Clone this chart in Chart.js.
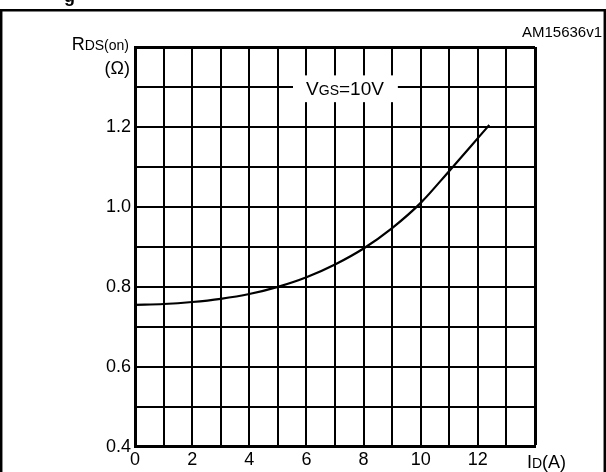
<!DOCTYPE html>
<html><head><meta charset="utf-8">
<script src="https://cdn.jsdelivr.net/npm/chart.js@4.4.1/dist/chart.umd.min.js"></script>
<style>html,body{margin:0;padding:0;background:#fff}#wrap{width:606px;height:472px;position:relative}</style>
</head><body><div id="wrap"><canvas id="c" width="606" height="472"></canvas></div>
<script>
// ---- data ----
const drainCurrent = [0, 1, 2, 3, 4, 5, 6, 7, 8, 9, 10, 11, 12, 12.4];
const rdsOn       = [0.755, 0.757, 0.762, 0.770, 0.782, 0.800, 0.824, 0.856, 0.896, 0.947, 1.010, 1.090, 1.172, 1.205];
const xTickLabels = [0, 2, 4, 6, 8, 10, 12];
const yTickLabels = [0.4, 0.6, 0.8, 1.0, 1.2];
const xRange = [0, 14];
const yRange = [0.4, 1.4];
const conditionLabel = ['V', 'GS', '=10V'];
const figureCode = 'AM15636v1';

const FONT = "'Liberation Sans', Arial, sans-serif";
const points = drainCurrent.map((x, i) => ({x, y: rdsOn[i]}));

function mixedText(ctx, parts, x, y, align) {
  let total = 0;
  parts.forEach(p => { ctx.font = p[1] + 'px ' + FONT; total += ctx.measureText(p[0]).width; });
  let cx = align === 'right' ? x - total : align === 'center' ? x - total / 2 : x;
  ctx.textAlign = 'left';
  parts.forEach(p => { ctx.font = p[1] + 'px ' + FONT; ctx.fillText(p[0], cx, y); cx += ctx.measureText(p[0]).width; });
}

const decor = {
  id: 'decor',
  afterDraw(chart) {
    const ctx = chart.ctx, xs = chart.scales.x, ys = chart.scales.y;
    ctx.save();
    ctx.strokeStyle = '#000'; ctx.lineWidth = 2.5;
    ctx.beginPath();
    ctx.moveTo(1.2, 472); ctx.lineTo(1.2, 10.2); ctx.lineTo(604.8, 10.2); ctx.lineTo(604.8, 472);
    ctx.stroke();
    ctx.fillStyle = '#000';
    ctx.font = 'bold 18px ' + FONT; ctx.textBaseline = 'alphabetic'; ctx.textAlign = 'left';
    ctx.fillText('g', 64, 2);
    ctx.font = '15px ' + FONT; ctx.textAlign = 'right';
    ctx.fillText(figureCode, 602, 37);
    const bx0 = xs.getPixelForValue(5.53), bx1 = xs.getPixelForValue(9.2);
    const by0 = ys.getPixelForValue(1.329), by1 = ys.getPixelForValue(1.262);
    ctx.fillStyle = '#fff';
    ctx.fillRect(bx0, by0, bx1 - bx0, by1 - by0);
    ctx.fillStyle = '#000';
    ctx.textBaseline = 'alphabetic';
    const cy = ys.getPixelForValue(1.3) + 8;
    mixedText(ctx, [[conditionLabel[0], 19], [conditionLabel[1], 14], [conditionLabel[2], 19]], xs.getPixelForValue(7.35), cy, 'center');
    const yl = xs.left - 6;
    mixedText(ctx, [['R', 18], ['DS(on)', 14]], yl, ys.getPixelForValue(1.4) + 3, 'right');
    mixedText(ctx, [['(\u03A9)', 18]], yl + 1, ys.getPixelForValue(1.4) + 27, 'right');
    mixedText(ctx, [['I', 18], ['D', 14], ['(A)', 18]], xs.getPixelForValue(14) - 8, ys.bottom + 21, 'left');
    ctx.restore();
  }
};

new Chart(document.getElementById('c'), {
  type: 'scatter',
  data: {
    datasets: [{
      data: points,
      showLine: true,
      borderColor: '#000',
      borderWidth: 2.2,
      pointRadius: 0,
      cubicInterpolationMode: 'monotone',
      fill: false
    }]
  },
  options: {
    responsive: false,
    animation: false,
    devicePixelRatio: 1,
    layout: {padding: {left: 0, top: 47, right: 71, bottom: 0}},
    plugins: {legend: {display: false}, tooltip: {enabled: false}},
    scales: {
      x: {
        type: 'linear', min: xRange[0], max: xRange[1],
        afterFit(s) { s.height = 25.3; },
        border: {color: '#000', width: 3},
        grid: {color: '#000', lineWidth: c => (c.tick && c.tick.value === xRange[1]) ? 3 : 2, drawTicks: false},
        ticks: {
          stepSize: 1, autoSkip: false, maxRotation: 0, padding: 3, color: '#000',
          font: {family: FONT, size: 18},
          callback: v => xTickLabels.includes(v) ? String(v) : ''
        }
      },
      y: {
        type: 'linear', min: yRange[0], max: yRange[1],
        afterFit(s) { s.width = 135; },
        border: {color: '#000', width: 3},
        grid: {color: '#000', lineWidth: c => (c.tick && Math.abs(c.tick.value - yRange[1]) < 1e-6) ? 3 : 2, drawTicks: false},
        ticks: {
          stepSize: 0.1, autoSkip: false, padding: 4, color: '#000',
          font: {family: FONT, size: 18},
          callback: v => yTickLabels.some(t => Math.abs(t - v) < 1e-6) ? Number(v).toFixed(1) : ''
        }
      }
    }
  },
  plugins: [decor]
});
</script></body></html>
